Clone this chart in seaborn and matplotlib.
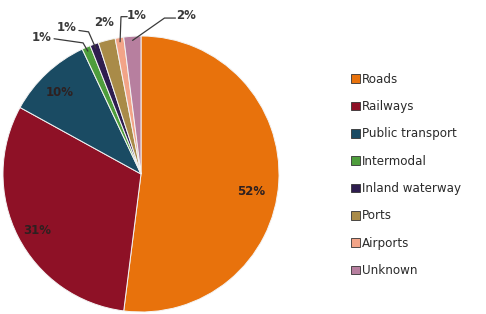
import matplotlib
matplotlib.use("Agg")
import matplotlib.pyplot as plt
import seaborn as sns
import numpy as np
from matplotlib.patches import Patch

categories = ["Roads", "Railways", "Public transport", "Intermodal",
              "Inland waterway", "Ports", "Airports", "Unknown"]
shares = [52, 31, 10, 1, 1, 2, 1, 2]
labels = ["52%", "31%", "10%", "1%", "1%", "2%", "1%", "2%"]
colors = ["#E8720C", "#8E1126", "#1A4B63", "#4E9D3C", "#2E1D4F",
          "#A98B48", "#F2A488", "#B77F9F"]

sns.set_style("white")
plt.rcParams['font.family'] = ['DejaVu Sans']

fig = plt.figure(figsize=(4.86, 3.14), dpi=100)
fig.patch.set_facecolor("white")
ax = fig.add_axes([3/486, 2/314, 276/486, 276/314])

wedges, _ = ax.pie(shares, colors=colors, startangle=90, counterclock=False,
                   radius=1.0,
                   wedgeprops=dict(edgecolor="#f4f4f4", linewidth=0.7))
ax.set_xlim(-1.0, 1.0)
ax.set_ylim(-1.0, 1.0)
ax.set_aspect("equal")
ax.axis("off")

in_kw = dict(fontsize=8.5, fontweight="bold", color="#2e2020",
             ha="center", va="center")
txt_kw = dict(fontsize=8.5, fontweight="bold", color="#3a3a3a",
              ha="center", va="center")

# inside labels for large slices
inside_pos = [(0.80, -0.13), (-0.75, -0.41), (-0.59, 0.59)]
for i, pos in enumerate(inside_pos):
    ax.text(pos[0], pos[1], labels[i], **in_kw)

# outside labels with leader lines for small slices
outside_txt = {3: (-0.72, 0.99), 4: (-0.54, 1.06), 5: (-0.27, 1.10),
               6: (-0.03, 1.15), 7: (0.33, 1.15)}
elbows = {3: [(-0.63, 0.98), (-0.42, 0.95)],
          4: [(-0.45, 1.04), (-0.38, 1.03)],
          6: [(-0.10, 1.14), (-0.145, 1.14)],
          7: [(0.25, 1.13), (0.17, 1.13)]}
for i, pos in outside_txt.items():
    ax.text(pos[0], pos[1], labels[i], clip_on=False, **txt_kw)
    if i in elbows:
        w = wedges[i]
        mid = np.deg2rad((w.theta1 + w.theta2) / 2)
        end = (0.97 * np.cos(mid), 0.97 * np.sin(mid))
        pts = elbows[i] + [end]
        xs, ys = zip(*pts)
        ax.plot(xs, ys, color="#3a3a3a", lw=0.9, clip_on=False,
                solid_joinstyle="miter")

handles = [Patch(facecolor=c, edgecolor="#333333", linewidth=0.6)
           for c in colors]
fig.legend(handles, categories, loc="upper left",
           bbox_to_anchor=(340/486, 1 - 62/314), frameon=False,
           fontsize=8.6, handlelength=0.75, handleheight=0.75,
           handletextpad=0.2, labelspacing=1.2, labelcolor="#2a2a2a")

fig.savefig("out.png", dpi=100, facecolor="white")
